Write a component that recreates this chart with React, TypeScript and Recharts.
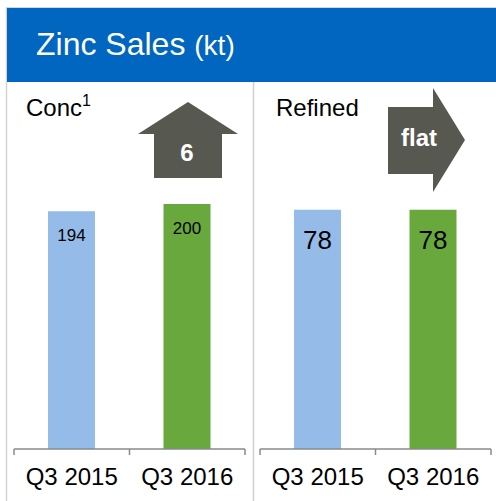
import { BarChart, Bar, XAxis, YAxis, Cell, LabelList } from 'recharts';

const categories = ['Q3 2015', 'Q3 2016'];
const concValues = [194, 200];
const refinedValues = [78, 78];
const concChange = '6';
const refinedChange = 'flat';

const FONT = '"Liberation Sans", Arial, sans-serif';
const BAR_COLORS = ['#95bbe8', '#68a83c'];
const ARROW = '#575850';
const CHART_H = 419;
const AXIS_H = 52;
const PLOT_BOTTOM = CHART_H - AXIS_H;

const concData = categories.map((name, i) => ({ name, value: concValues[i] }));
const refinedData = categories.map((name, i) => ({ name, value: refinedValues[i] }));

function makeTick(half: number) {
    return function Tick(props: any) {
        const { x, index, payload } = props;
        const y0 = PLOT_BOTTOM;
        return (
            <g>
                <line x1={x - half} x2={x - half} y1={y0} y2={y0 + 6} stroke="#8a8a8a" strokeWidth={1.5} />
                {index === categories.length - 1 && (
                    <line x1={x + half} x2={x + half} y1={y0} y2={y0 + 6} stroke="#8a8a8a" strokeWidth={1.5} />
                )}
                <text x={x} y={y0 + 36} textAnchor="middle" fontSize={24} fontFamily={FONT} fill="#000">
                    {payload.value}
                </text>
            </g>
        );
    };
}

interface PanelProps {
    data: { name: string; value: number }[];
    width: number;
    left: number;
    right: number;
    max: number;
    labelSize: number;
    labelOffset: number;
}

function Panel({ data, width, left, right, max, labelSize, labelOffset }: PanelProps) {
    const half = (width - left - right) / categories.length / 2;
    return (
        <BarChart
            width={width}
            height={CHART_H}
            data={data}
            margin={{ top: 8, right, bottom: 0, left }}
        >
            <XAxis
                dataKey="name"
                height={AXIS_H}
                axisLine={{ stroke: '#8a8a8a', strokeWidth: 1.5 }}
                tickLine={false}
                tick={makeTick(half)}
                interval={0}
            />
            <YAxis hide domain={[0, max]} />
            <Bar dataKey="value" barSize={47} isAnimationActive={false}>
                {data.map((_, i) => (
                    <Cell key={i} fill={BAR_COLORS[i]} />
                ))}
                <LabelList
                    dataKey="value"
                    position="insideTop"
                    offset={labelOffset}
                    fontSize={labelSize}
                    fontFamily={FONT}
                    fill="#000"
                />
            </Bar>
        </BarChart>
    );
}

export default function App() {
    return (
        <div style={{ position: 'absolute', left: 0, top: 0, width: 496, height: 501, background: '#fff', fontFamily: FONT }}>
            <svg width={496} height={501} style={{ position: 'absolute', left: 0, top: 0 }}>
                {/* frame + header */}
                <line x1={6.5} x2={6.5} y1={7} y2={501} stroke="#d4d4d4" strokeWidth={1.5} />
                <line x1={6} x2={496} y1={7.5} y2={7.5} stroke="#d4d4d4" strokeWidth={1} />
                <rect x={7} y={8} width={489} height={74} fill="#0066c0" />
                <text x={36} y={55} fill="#fff" fontFamily={FONT}>
                    <tspan fontSize={32}>Zinc Sales </tspan>
                    <tspan fontSize={28}>(kt)</tspan>
                </text>
                <line x1={253.5} x2={253.5} y1={82} y2={501} stroke="#cfcfcf" strokeWidth={1.5} />

                {/* panel titles */}
                <text x={26} y={116} fontSize={24} fontFamily={FONT} fill="#000">
                    Conc<tspan fontSize={16} dy={-10}>1</tspan>
                </text>
                <text x={276} y={116} fontSize={24} fontFamily={FONT} fill="#000">Refined</text>

                {/* change arrows */}
                <polygon points="188,102 238,134 222,134 222,178 154,178 154,134 138,134" fill={ARROW} />
                <text x={187} y={161} textAnchor="middle" fontSize={24} fontWeight="bold" fontFamily={FONT} fill="#fff">
                    {concChange}
                </text>
                <polygon points="388,107 433,107 433,88 465,140 433,192 433,174 388,174" fill={ARROW} />
                <text x={419} y={146} textAnchor="middle" fontSize={24} fontWeight="bold" fontFamily={FONT} fill="#fff">
                    {refinedChange}
                </text>
            </svg>
            <div style={{ position: 'absolute', left: 0, top: 82 }}>
                <Panel data={concData} width={254} left={14} right={9} max={293} labelSize={17} labelOffset={18} />
            </div>
            <div style={{ position: 'absolute', left: 254, top: 82 }}>
                <Panel data={refinedData} width={242} left={6} right={5} max={117} labelSize={26} labelOffset={21} />
            </div>
        </div>
    );
}
